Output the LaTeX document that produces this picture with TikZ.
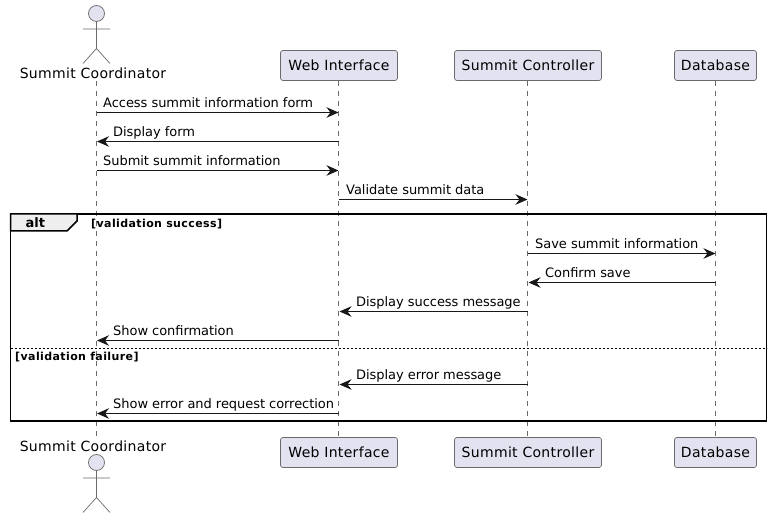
\documentclass[tikz,border=0pt]{standalone}
\usepackage{fontspec}
\setmainfont{DejaVu Sans}
\newfontfamily\partfont[LetterSpace=2.3]{DejaVu Sans}
\newfontfamily\guardfont[LetterSpace=3.6]{DejaVu Sans}
\newfontfamily\msgfont[LetterSpace=-0.4]{DejaVu Sans}
\usetikzlibrary{arrows.meta,calc}
\definecolor{partfill}{HTML}{E2E2F0}
\definecolor{ink}{HTML}{181818}
\definecolor{soft}{HTML}{6A6A6A}
\definecolor{tabfill}{HTML}{EEEEEE}
\tikzset{
  x=1pt,y=-1pt,
  lifeline/.style={draw=soft,line width=0.6pt,dash pattern=on 5pt off 5pt},
  partbox/.style={draw=soft,line width=0.7pt,fill=partfill,rounded corners=2.5pt,minimum height=30pt,inner sep=0pt,font=\partfont\fontsize{14}{16}\selectfont,text=black},
  actorname/.style={inner sep=0pt,font=\partfont\fontsize{14}{16}\selectfont,text=black,anchor=base},
  actorline/.style={draw=soft,line width=0.7pt},
  msg/.style={draw=ink,line width=1pt,-{Stealth[length=12pt,width=10.5pt,inset=4pt,fill=ink]}},
  msgtext/.style={inner sep=0pt,anchor=base west,font=\msgfont\fontsize{13}{15}\selectfont,text=black},
  frameline/.style={draw=black,line width=1.5pt},
  guard/.style={inner sep=0pt,anchor=base west,font=\guardfont\fontsize{11}{13}\bfseries\selectfont,text=black},
}
\newcommand{\stickman}[2]{%
  \draw[actorline,fill=partfill] (#1,#2) circle[radius=8];
  \draw[actorline] (#1,#2+8) -- (#1,#2+35) (#1-13.5,#2+15.5) -- (#1+13.5,#2+15.5)
    (#1-13.5,#2+50) -- (#1,#2+35) -- (#1+13.5,#2+50);
}
\begin{document}
\begin{tikzpicture}
\useasboundingbox (0,0) rectangle (772,518);
\fill[white] (0,0) rectangle (772,518);
% participants
\node[partbox,minimum width=117pt] (wi) at (339,65.5) {Web Interface};
\node[partbox,minimum width=147pt] (sc) at (528,65.5) {Summit Controller};
\node[partbox,minimum width=82pt] (db) at (715.5,65.5) {Database};
\node[partbox,minimum width=117pt] (wib) at (339,452.5) {Web Interface};
\node[partbox,minimum width=147pt] (scb) at (528,452.5) {Summit Controller};
\node[partbox,minimum width=82pt] (dbb) at (715.5,452.5) {Database};
\coordinate (co) at (96.5,81);
\coordinate (cob) at (96.5,437);
\coordinate (wl) at (338.5,81);
\coordinate (wlb) at (338.5,437);
\coordinate (sl) at (527.5,81);
\coordinate (slb) at (527.5,437);
\coordinate (dl) at (715.5,81);
\coordinate (dlb) at (715.5,437);
% lifelines
\draw[lifeline] (co) -- (cob);
\draw[lifeline] (wl) -- (wlb);
\draw[lifeline] (sl) -- (slb);
\draw[lifeline] (dl) -- (dlb);
% actors
\stickman{96.5}{13.5}
\stickman{96.5}{462.5}
\node[actorname] (actop) at (93,79) {Summit Coordinator};
\node[actorname] (acbot) at (93,452) {Summit Coordinator};
% frame
\draw[frameline] (10.5,214) rectangle (766.5,421);
\draw[line width=1.5pt,fill=tabfill] (10.5,214) -- (77,214) -- (77,221) -- (67,231) -- (10.5,231) -- cycle;
\node[inner sep=0pt,anchor=base west,font=\fontsize{13}{15}\bfseries\selectfont] (alt) at (25.5,228) {alt};
\node[guard] (g1) at (91,228) {[validation success]};
\draw[draw=black,line width=1pt,dash pattern=on 2pt off 2pt] (10.5,349) -- (766.5,349);
\node[guard] (g2) at (15,361) {[validation failure]};
% messages
\draw[msg] (co |- 0,112.5) -- (wl |- 0,112.5);
\node[msgtext] (t1) at (103,108) {Access summit information form};
\draw[msg] (wl |- 0,141.5) -- ($(co |- 0,141.5)+(0.5,0)$);
\node[msgtext] (t2) at (113,137) {Display form};
\draw[msg] (co |- 0,170.5) -- (wl |- 0,170.5);
\node[msgtext] (t3) at (103,166) {Submit summit information};
\draw[msg] (wl |- 0,199.5) -- (sl |- 0,199.5);
\node[msgtext] (t4) at (346,195) {Validate summit data};
\draw[msg] (sl |- 0,253.5) -- (dl |- 0,253.5);
\node[msgtext] (t5) at (535,249) {Save summit information};
\draw[msg] (dl |- 0,282.5) -- ($(sl |- 0,282.5)+(1,0)$);
\node[msgtext] (t6) at (545,278) {Confirm save};
\draw[msg] (sl |- 0,311.5) -- ($(wl |- 0,311.5)+(1,0)$);
\node[msgtext] (t7) at (356,307) {Display success message};
\draw[msg] (wl |- 0,340.5) -- ($(co |- 0,340.5)+(0.5,0)$);
\node[msgtext] (t8) at (113,336) {Show confirmation};
\draw[msg] (sl |- 0,384.5) -- ($(wl |- 0,384.5)+(1,0)$);
\node[msgtext] (t9) at (356,380) {Display error message};
\draw[msg] (wl |- 0,413.5) -- ($(co |- 0,413.5)+(0.5,0)$);
\node[msgtext] (t10) at (113,409) {Show error and request correction};
\end{tikzpicture}
\end{document}
